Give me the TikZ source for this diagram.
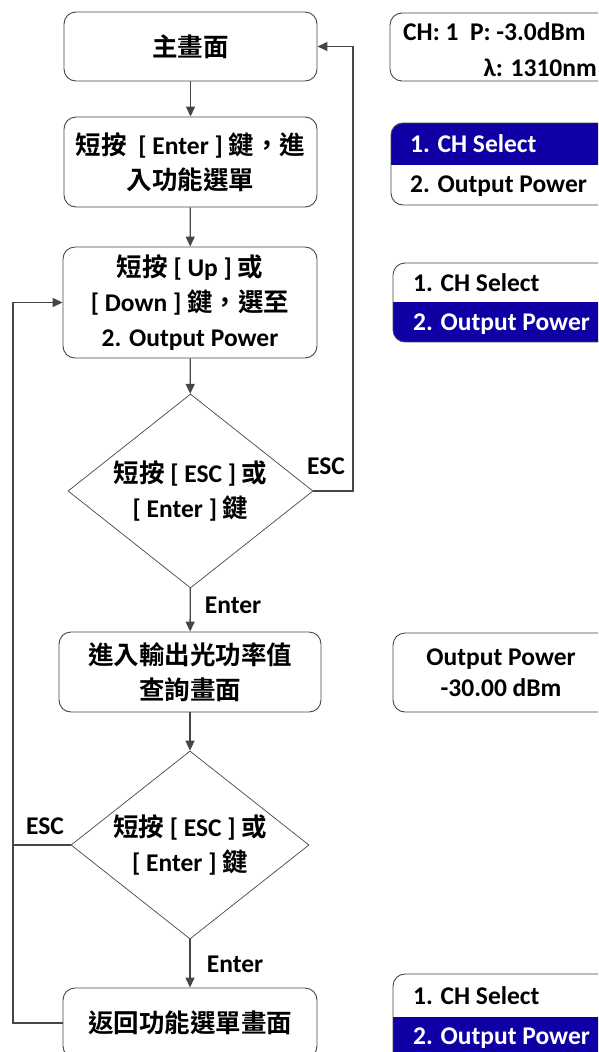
\documentclass[tikz,border=0pt]{standalone}
\usepackage{fontspec}
\setmainfont{Carlito}
\newfontfamily\cjk{Noto Sans CJK TC}[UprightFont=* Bold, BoldFont=* Bold]
\usetikzlibrary{shapes.geometric,arrows.meta}
\newcommand\myfs{\fontsize{25.5}{35}\selectfont\bfseries}
\definecolor{linec}{RGB}{70,70,70}
\definecolor{selblue}{RGB}{14,0,165}
\tikzset{
  flowbox/.style={draw=linec, line width=0.9pt, rounded corners=12pt, align=center, inner sep=0pt, font=\myfs},
  decision/.style={draw=linec, line width=0.7pt, diamond, aspect=1.26, inner sep=0pt, align=center, font=\myfs},
  arr/.style={draw=linec, line width=1.3pt, -{Triangle[length=10pt,width=9pt]}},
  ln/.style={draw=linec, line width=1.3pt},
  lbl/.style={font=\myfs, inner sep=0pt},
  panel/.style={draw=linec, line width=0.9pt, rounded corners=12pt, inner sep=0pt},
}
\begin{document}
\begin{tikzpicture}[x=1pt,y=-1pt]
\useasboundingbox (0,0) rectangle (598,1052);
\begin{scope}
\clip (0,0) rectangle (598,1052);
% flow boxes
\node[flowbox, minimum width=253pt, minimum height=69pt] (b1) at (190.5,46.5) {\cjk 主畫面};
\node[flowbox, minimum width=253pt, minimum height=90pt] (b2) at (190.5,162) {{\cjk 短按}\ \ [ Enter ] {\cjk 鍵，進}\\{\cjk 入功能選單}};
\node[flowbox, minimum width=254pt, minimum height=111pt] (b3) at (190,302.5) {{\cjk 短按} [ Up ] {\cjk 或}\\{[} Down ] {\cjk 鍵，選至}\\2. Output Power};
\node[decision, minimum width=245pt, minimum height=194pt] (d1) at (190.5,491) {{\cjk 短按} [ ESC ] {\cjk 或}\\{[} Enter ] {\cjk 鍵}};
\node[flowbox, minimum width=262pt, minimum height=80pt] (b4) at (190,672) {{\cjk 進入輸出光功率值}\\{\cjk 查詢畫面}};
\node[decision, minimum width=238pt, minimum height=188pt] (d2) at (190,845) {{\cjk 短按} [ ESC ] {\cjk 或}\\{[} Enter ] {\cjk 鍵}};
\node[flowbox, minimum width=254pt, minimum height=70pt] (b5) at (190,1023) {\cjk 返回功能選單畫面};
% connectors
\draw[arr] (b1) -- (b2);
\draw[arr] (b2) -- (b3);
\draw[arr] (b3) -- (d1);
\draw[arr] (d1) -- (b4);
\draw[arr] (b4) -- (d2);
\draw[arr] (d2) -- (b5);
\coordinate (r1) at (353,491);
\draw[arr] (d1.east) -- (r1) |- (b1.east);
\coordinate (l1) at (13,845);
\draw[ln] (d2.west) -- (l1);
\draw[arr] (b5.west) -| (l1) |- (b3.west);
% labels
\node[lbl] (esc1) at (326,466) {ESC};
\node[lbl] (ent1) at (233,605) {Enter};
\node[lbl] (esc2) at (45,826) {ESC};
\node[lbl] (ent2) at (235,964) {Enter};
% right panels
\node[panel, minimum width=240pt, minimum height=68pt] (p1) at (510,47) {};
\node[lbl, anchor=west] (p1a) at (403,32) {CH: 1\ \ P: -3.0dBm};
\node[lbl, anchor=east] (p1b) at (597,68) {λ: 1310nm};
% panel 2
\begin{scope}
\clip[rounded corners=12pt] (391,123) rectangle (640,205);
\fill[selblue] (391,123) rectangle (640,165);
\end{scope}
\node[panel, minimum width=249pt, minimum height=82pt] (p2) at (515.5,164) {};
\node[lbl, anchor=west, text=white] (p2a) at (410,144) {1. CH Select};
\node[lbl, anchor=west] (p2b) at (410,186) {2. Output Power};
% panel 3
\begin{scope}
\clip[rounded corners=12pt] (393,263) rectangle (640,342);
\fill[selblue] (393,302) rectangle (640,342);
\end{scope}
\node[panel, minimum width=247pt, minimum height=79pt] (p3) at (516.5,302.5) {};
\node[lbl, anchor=west] (p3a) at (413,283) {1. CH Select};
\node[lbl, anchor=west, text=white] (p3b) at (413,324) {2. Output Power};
% panel 4
\node[panel, minimum width=247pt, minimum height=79pt] (p4) at (516.5,672.5) {};
\node[lbl, align=center, font=\fontsize{25.5}{31}\selectfont\bfseries] (p4a) at (501,673) {Output Power\\-30.00 dBm};
% panel 5
\begin{scope}
\clip[rounded corners=12pt] (393,974) rectangle (640,1080);
\fill[selblue] (393,1017) rectangle (640,1080);
\end{scope}
\node[panel, minimum width=247pt, minimum height=106pt] (p5) at (516.5,1027) {};
\node[lbl, anchor=west] (p5a) at (413,996) {1. CH Select};
\node[lbl, anchor=west, text=white] (p5b) at (413,1038) {2. Output Power};
\end{scope}
\end{tikzpicture}
\end{document}
